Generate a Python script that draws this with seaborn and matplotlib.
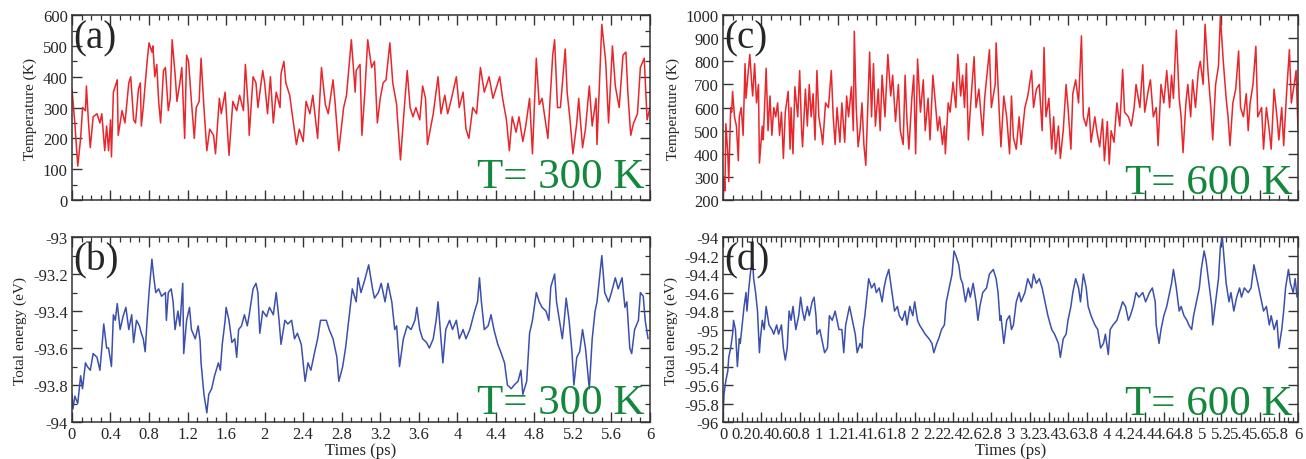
import matplotlib
matplotlib.use("Agg")
import matplotlib.pyplot as plt
from matplotlib.ticker import MultipleLocator, FuncFormatter
import seaborn as sns
import pandas as pd

# ---------------- data ----------------
# (a) Temperature at T = 300 K
time_a = [0.00, 0.03, 0.06, 0.09, 0.11, 0.14, 0.15, 0.17, 0.19, 0.22, 0.26, 0.29, 0.31, 0.34, 0.36, 0.38, 0.40, 0.41,
          0.43, 0.47, 0.48, 0.52, 0.55, 0.59, 0.61, 0.64, 0.66, 0.69, 0.71, 0.72, 0.74, 0.78, 0.80, 0.83, 0.84, 0.86,
          0.88, 0.90, 0.92, 0.95, 0.97, 1.00, 1.02, 1.04, 1.07, 1.09, 1.12, 1.14, 1.17, 1.19, 1.21, 1.24, 1.27, 1.29,
          1.32, 1.34, 1.37, 1.40, 1.43, 1.47, 1.49, 1.53, 1.55, 1.59, 1.60, 1.63, 1.67, 1.71, 1.74, 1.78, 1.80, 1.83,
          1.84, 1.88, 1.91, 1.93, 1.98, 2.00, 2.03, 2.06, 2.09, 2.12, 2.16, 2.17, 2.20, 2.22, 2.26, 2.29, 2.33, 2.36,
          2.40, 2.43, 2.47, 2.50, 2.55, 2.59,
          2.63, 2.66, 2.71, 2.73, 2.77, 2.82, 2.85, 2.90, 2.94, 2.95, 2.99, 3.01, 3.04, 3.07, 3.11, 3.14, 3.17, 3.20,
          3.23, 3.26, 3.30, 3.33, 3.37, 3.38, 3.41, 3.45, 3.48, 3.51, 3.54, 3.57, 3.61, 3.64, 3.67, 3.69, 3.75, 3.80,
          3.83, 3.87, 3.90, 3.94, 3.99, 4.02, 4.06, 4.09, 4.12, 4.16, 4.20, 4.24, 4.28, 4.33, 4.37, 4.40, 4.44, 4.47,
          4.51, 4.54, 4.57, 4.61, 4.64, 4.68, 4.71, 4.75, 4.78, 4.82, 4.85, 4.88, 4.94, 4.99, 5.01, 5.04, 5.07, 5.12,
          5.14, 5.17, 5.20, 5.24, 5.26, 5.30, 5.33, 5.37, 5.40, 5.44, 5.45, 5.50, 5.54, 5.57, 5.61, 5.64, 5.68, 5.72,
          5.75, 5.77, 5.80, 5.83, 5.87, 5.90, 5.94, 5.97, 6.00]
temp_a = [360, 250, 110, 200, 300, 290, 370, 260, 170, 270, 280, 250, 280, 160, 240, 160, 260, 140,
          350, 390, 210, 290, 250, 380, 400, 260, 250, 360, 380, 240, 300, 450, 510, 480, 500, 400,
          440, 320, 250, 420, 430, 290, 330, 520, 410, 320, 380, 430, 200, 470, 450, 320, 200, 300,
          320, 460, 300, 160, 230, 210, 150, 330, 280, 350, 300, 145, 320, 290, 340, 290, 440, 300,
          210, 400, 380, 300, 420, 380, 280, 400, 250, 350, 300, 410, 450, 380, 340, 270, 180, 230,
          190, 320, 280, 340, 200, 430,
          310, 280, 390, 320, 160, 300, 340, 520, 350, 420, 440, 210, 350, 520, 430, 450, 250, 330,
          380, 390, 510, 380, 310, 260, 130, 300, 420, 300, 270, 300, 260, 370, 330, 180, 280, 400,
          280, 340, 280, 330, 400, 300, 350, 230, 200, 300, 280, 430, 350, 400, 330, 360, 400, 330,
          260, 160, 270, 220, 270, 190, 240, 330, 150, 460, 310, 330, 200, 470, 520, 300, 300, 490,
          350, 260, 150, 250, 330, 170, 230, 370, 240, 330, 180, 570, 450, 250, 500, 370, 300, 470,
          480, 350, 210, 250, 280, 430, 460, 260, 300]

# (b) Total energy at T = 300 K
time_b = [0.00, 0.01, 0.03, 0.06, 0.09, 0.11, 0.14, 0.16, 0.19, 0.22, 0.26, 0.29, 0.31, 0.33, 0.36, 0.38, 0.41, 0.43,
          0.45, 0.47, 0.50, 0.53, 0.56, 0.59, 0.62, 0.64, 0.67, 0.70, 0.72, 0.74, 0.76, 0.78, 0.80, 0.83, 0.85, 0.87,
          0.90, 0.93, 0.97, 0.98, 1.00, 1.03, 1.05, 1.07, 1.10, 1.12, 1.15, 1.16, 1.19, 1.22, 1.24, 1.28, 1.31, 1.33,
          1.34, 1.37, 1.40, 1.42, 1.45, 1.48, 1.52, 1.54, 1.56, 1.59, 1.60, 1.63, 1.66, 1.69, 1.71, 1.73, 1.76, 1.79,
          1.82, 1.84, 1.88, 1.91, 1.93, 1.95, 1.98, 2.02, 2.05, 2.09, 2.12, 2.15, 2.17, 2.21, 2.24, 2.28, 2.31, 2.34,
          2.38, 2.40, 2.42, 2.45, 2.48, 2.52, 2.55, 2.58,
          2.61, 2.64, 2.67, 2.71, 2.75, 2.77, 2.81, 2.84, 2.88, 2.91, 2.95, 2.97, 3.00, 3.04, 3.08, 3.12, 3.14, 3.18,
          3.21, 3.25, 3.28, 3.32, 3.35, 3.37, 3.40, 3.44, 3.48, 3.52, 3.56, 3.58, 3.61, 3.64, 3.68, 3.71, 3.75, 3.78,
          3.80, 3.83, 3.85, 3.88, 3.92, 3.95, 3.99, 4.02, 4.06, 4.09, 4.13, 4.18, 4.21, 4.23, 4.25, 4.28, 4.32, 4.35,
          4.38, 4.42, 4.45, 4.49, 4.52, 4.56, 4.59, 4.63, 4.66, 4.68, 4.72, 4.75, 4.78, 4.82, 4.85, 4.88, 4.92, 4.95,
          4.97, 5.01, 5.03, 5.06, 5.09, 5.11, 5.13, 5.16, 5.19, 5.21, 5.24, 5.27, 5.30, 5.33, 5.37, 5.40, 5.43, 5.45,
          5.50, 5.53, 5.57, 5.60, 5.64, 5.67, 5.71, 5.74, 5.76, 5.79, 5.81, 5.84, 5.88, 5.90, 5.93, 5.95, 5.98]
energy_b = [-93.85, -93.93, -93.86, -93.90, -93.75, -93.82, -93.68, -93.70, -93.72, -93.63, -93.65, -93.72, -93.60,
            -93.47, -93.60, -93.60, -93.70, -93.42, -93.45, -93.36, -93.50, -93.43, -93.38, -93.50, -93.42, -93.57,
            -93.45, -93.48, -93.52, -93.55, -93.62, -93.45, -93.30, -93.12, -93.22, -93.30, -93.28, -93.32, -93.30,
            -93.45, -93.30, -93.28, -93.35, -93.50, -93.40, -93.48, -93.25, -93.63, -93.45, -93.38, -93.50, -93.55,
            -93.48, -93.56, -93.68, -93.85, -93.95, -93.85, -93.82, -93.75, -93.68, -93.72, -93.58, -93.45, -93.38,
            -93.45, -93.57, -93.55, -93.65, -93.50, -93.48, -93.42, -93.48, -93.42, -93.28, -93.25, -93.30, -93.52,
            -93.40, -93.43, -93.38, -93.42, -93.30, -93.45, -93.58, -93.45, -93.47, -93.45, -93.55, -93.52, -93.58,
            -93.68, -93.78, -93.68, -93.72, -93.62, -93.55, -93.45,
            -93.45, -93.45, -93.50, -93.55, -93.65, -93.78, -93.70, -93.60, -93.42, -93.28, -93.35, -93.22, -93.30,
            -93.23, -93.15, -93.28, -93.33, -93.30, -93.25, -93.35, -93.25, -93.35, -93.50, -93.48, -93.70, -93.55,
            -93.48, -93.50, -93.45, -93.38, -93.50, -93.55, -93.57, -93.60, -93.55, -93.45, -93.35, -93.55, -93.68,
            -93.50, -93.45, -93.50, -93.45, -93.55, -93.50, -93.55, -93.50, -93.40, -93.35, -93.22, -93.35, -93.50,
            -93.48, -93.42, -93.50, -93.58, -93.62, -93.68, -93.80, -93.82, -93.80, -93.78, -93.72, -93.85, -93.78,
            -93.52, -93.45, -93.30, -93.35, -93.38, -93.40, -93.45, -93.27, -93.20, -93.35, -93.45, -93.55, -93.45,
            -93.33, -93.45, -93.62, -93.80, -93.65, -93.62, -93.50, -93.60, -93.82, -93.55, -93.40, -93.35, -93.10,
            -93.30, -93.35, -93.30, -93.22, -93.28, -93.22, -93.38, -93.35, -93.60, -93.63, -93.50, -93.45, -93.30,
            -93.32, -93.45, -93.55]

# (c) Temperature at T = 600 K
time_c = [0.00, 0.01, 0.02, 0.03, 0.05, 0.06, 0.08, 0.09, 0.10, 0.12, 0.14, 0.16, 0.17, 0.19, 0.21, 0.23, 0.24, 0.26,
          0.28, 0.30, 0.31, 0.33, 0.35, 0.37, 0.38, 0.41, 0.42, 0.45, 0.47, 0.49, 0.51, 0.53, 0.55, 0.57, 0.59, 0.61,
          0.63, 0.65, 0.68, 0.70, 0.71, 0.73, 0.75, 0.78, 0.80, 0.82, 0.83, 0.86, 0.88, 0.90, 0.92, 0.94, 0.96, 0.98,
          1.00, 1.03, 1.04, 1.07, 1.10, 1.13, 1.15, 1.17, 1.19, 1.22, 1.24, 1.27, 1.29, 1.31, 1.34, 1.36, 1.37, 1.39,
          1.41, 1.43, 1.45, 1.47, 1.49, 1.51, 1.53, 1.55, 1.57, 1.59, 1.62, 1.64, 1.66, 1.69, 1.72, 1.75, 1.77, 1.80,
          1.83, 1.85, 1.88, 1.90, 1.92, 1.94, 1.97, 1.99, 2.01, 2.03, 2.06, 2.09, 2.11, 2.14, 2.16, 2.19, 2.22, 2.24,
          2.26, 2.29, 2.31, 2.32, 2.35, 2.37, 2.40, 2.43, 2.45, 2.48, 2.50, 2.52, 2.54, 2.56, 2.59, 2.62, 2.64, 2.67,
          2.71, 2.73, 2.78, 2.80, 2.84, 2.85, 2.88, 2.90, 2.93, 2.96, 2.99, 3.01, 3.03, 3.06, 3.09, 3.11, 3.15, 3.18,
          3.22, 3.24, 3.27, 3.30, 3.33, 3.35, 3.37, 3.40, 3.43, 3.45, 3.47, 3.50, 3.52, 3.55, 3.58, 3.60, 3.63, 3.65,
          3.68, 3.71, 3.74, 3.76, 3.79, 3.82, 3.84, 3.88, 3.90, 3.93, 3.96, 3.98, 4.01, 4.03, 4.05, 4.08, 4.11, 4.14,
          4.17, 4.19, 4.23, 4.26, 4.29, 4.31, 4.35, 4.38, 4.40, 4.44, 4.46, 4.49, 4.52, 4.54, 4.57, 4.60, 4.63, 4.66,
          4.68, 4.70, 4.73, 4.76, 4.78, 4.80, 4.83, 4.85, 4.88, 4.90, 4.93, 4.96, 4.98, 5.01, 5.03, 5.06, 5.09, 5.11,
          5.14, 5.17, 5.19, 5.22, 5.25, 5.27, 5.29, 5.32, 5.35, 5.38, 5.40, 5.43, 5.46, 5.48, 5.50, 5.53, 5.56, 5.58,
          5.62, 5.64, 5.67, 5.70, 5.72, 5.75, 5.78, 5.80, 5.83, 5.85, 5.88, 5.91, 5.93, 5.96, 5.98, 6.00]
temp_c = [200, 300, 240, 530, 400, 280, 600, 580, 670, 560, 520, 370, 560, 600, 480, 790, 640, 740,
          830, 700, 650, 790, 620, 700, 360, 520, 460, 770, 500, 650, 480, 600, 560, 620, 480, 580,
          380, 580, 670, 420, 600, 400, 690, 560, 760, 500, 430, 680, 520, 700, 560, 660, 460, 760,
          560, 480, 440, 620, 600, 760, 560, 440, 600, 450, 620, 450, 650, 560, 690, 500, 930, 600,
          430, 500, 620, 440, 350, 600, 840, 560, 790, 520, 680, 500, 740, 560, 830, 650, 740, 540,
          700, 500, 440, 740, 540, 420, 640, 740, 400, 810, 580, 720, 500, 640, 460, 740, 600, 500,
          560, 440, 520, 400, 620, 580, 710, 600, 830, 650, 740, 600, 790, 460, 650, 820, 600, 680,
          480, 640, 850, 600, 700, 880, 600, 430, 650, 560, 400, 650, 470, 420, 560, 440, 600, 650,
          760, 600, 680, 700, 500, 860, 560, 640, 420, 560, 400, 520, 380, 500, 700, 600, 420, 660,
          720, 620, 910, 560, 520, 600, 450, 560, 500, 430, 550, 370, 540, 355, 500, 450, 620, 520,
          765, 580, 560, 520, 600, 700, 600, 785, 580, 680, 720, 560, 600, 435, 700, 620, 760, 600,
          740, 640, 935, 640, 560, 405, 620, 700, 560, 720, 600, 760, 800, 700, 960, 760, 600, 460,
          700, 780, 995, 800, 640, 560, 435, 620, 680, 845, 600, 560, 660, 500, 620, 700, 865, 560,
          600, 420, 600, 500, 420, 680, 560, 460, 600, 435, 660, 850, 620, 700, 760, 500]

# (d) Total energy at T = 600 K
time_d = [0.00, 0.01, 0.03, 0.05, 0.06, 0.08, 0.10, 0.11, 0.13, 0.15, 0.17, 0.18, 0.20, 0.22, 0.24, 0.25, 0.27, 0.29,
          0.31, 0.32, 0.34, 0.36, 0.38, 0.39, 0.41, 0.43, 0.45, 0.48, 0.51, 0.53, 0.56, 0.58, 0.61, 0.63, 0.65, 0.67,
          0.69, 0.71, 0.73, 0.76, 0.79, 0.81, 0.83, 0.85, 0.88, 0.90, 0.93, 0.95, 0.97, 0.98, 1.01, 1.04, 1.06, 1.09,
          1.11, 1.14, 1.17, 1.19, 1.21, 1.24, 1.26, 1.28, 1.30, 1.32, 1.35, 1.38, 1.40, 1.43, 1.45, 1.46, 1.48, 1.51,
          1.52, 1.55, 1.58, 1.60, 1.63, 1.66, 1.68, 1.70, 1.73, 1.75, 1.77, 1.79, 1.82, 1.84, 1.87, 1.90, 1.92, 1.95,
          1.98, 2.00, 2.03, 2.05, 2.08, 2.11, 2.15, 2.18, 2.20, 2.23, 2.25, 2.28, 2.31, 2.33, 2.36, 2.39, 2.41, 2.43,
          2.46, 2.48, 2.50, 2.53, 2.56, 2.58, 2.61, 2.64, 2.66,
          2.68, 2.71, 2.75, 2.78, 2.82, 2.85, 2.87, 2.89, 2.90, 2.93, 2.96, 2.99, 3.01, 3.03, 3.06, 3.09, 3.11, 3.15,
          3.18, 3.22, 3.24, 3.27, 3.30, 3.33, 3.36, 3.39, 3.43, 3.46, 3.50, 3.52, 3.55, 3.58, 3.60, 3.63, 3.65, 3.68,
          3.71, 3.73, 3.76, 3.79, 3.81, 3.84, 3.88, 3.91, 3.94, 3.97, 3.99, 4.02, 4.04, 4.07, 4.11, 4.14, 4.17, 4.20,
          4.23, 4.25, 4.28, 4.31, 4.34, 4.38, 4.41, 4.45, 4.48, 4.51, 4.52, 4.55, 4.57, 4.60, 4.63, 4.66, 4.68, 4.70,
          4.73, 4.76, 4.78, 4.81, 4.84, 4.86, 4.89, 4.91, 4.94, 4.97, 4.99, 5.02, 5.04, 5.07, 5.10, 5.11, 5.14, 5.17,
          5.19, 5.21, 5.23, 5.25, 5.28, 5.30, 5.33, 5.36, 5.39, 5.41, 5.44, 5.48, 5.51, 5.54, 5.57, 5.59, 5.62, 5.64,
          5.67, 5.70, 5.72, 5.75, 5.78, 5.80, 5.83, 5.85, 5.87, 5.90, 5.92, 5.95, 5.97, 5.99]
energy_d = [-96.00, -95.70, -95.55, -95.45, -95.30, -95.20, -95.05, -94.90, -95.00, -95.40, -95.10, -95.15, -94.95,
            -94.75, -94.60, -94.80, -94.55, -94.35, -94.28, -94.45, -94.60, -94.80, -95.25, -95.10, -94.90, -95.00,
            -94.75, -94.95, -95.00, -95.05, -94.95, -95.05, -94.95, -95.20, -95.33, -95.20, -94.80, -94.90, -94.75,
            -95.00, -94.85, -94.65, -94.80, -94.90, -94.75, -94.85, -94.70, -94.65, -94.85, -95.05, -95.00, -95.15,
            -95.25, -95.20, -94.85, -94.90, -94.80, -94.90, -95.00, -95.00, -95.25, -94.95, -94.85, -94.75, -94.90,
            -95.05, -95.25, -95.15, -95.20, -95.00, -94.85, -94.55, -94.45, -94.55, -94.50, -94.60, -94.55, -94.70,
            -94.55, -94.45, -94.35, -94.50, -94.65, -94.80, -94.75, -94.85, -94.90, -94.80, -94.95, -94.75, -94.85,
            -94.70, -94.90, -94.95, -95.00, -95.05, -95.10, -95.15, -95.25, -95.15, -95.10, -95.00, -94.95, -94.70,
            -94.55, -94.40, -94.15, -94.20, -94.30, -94.45, -94.50, -94.70, -94.55, -94.65, -94.50, -94.70, -94.90,
            -94.75, -94.60, -94.55, -94.40, -94.35, -94.45, -94.60, -94.90, -94.85, -95.15, -94.90, -94.85, -95.00,
            -94.95, -94.70, -94.60, -94.70, -94.60, -94.45, -94.55, -94.40, -94.50, -94.45, -94.55, -94.70, -94.85,
            -95.00, -95.05, -95.15, -95.30, -95.10, -95.05, -94.90, -94.75, -94.60, -94.45, -94.55, -94.70, -94.40,
            -94.55, -94.75, -94.85, -94.95, -95.00, -95.20, -95.15, -95.05, -95.27, -95.00, -94.95, -94.90, -94.80,
            -94.70, -94.75, -94.90, -94.85, -94.75, -94.60, -94.65, -94.60, -94.70, -94.60, -94.55, -94.70, -94.95,
            -95.15, -95.00, -94.85, -94.75, -94.60, -94.50, -94.35, -94.55, -94.80, -94.75, -94.85, -94.90, -94.95,
            -95.00, -94.85, -94.70, -94.55, -94.35, -94.15, -94.25, -94.50, -94.75, -94.95, -94.70, -94.45, -94.10,
            -94.00, -94.25, -94.50, -94.70, -94.60, -94.80, -94.65, -94.55, -94.65, -94.55, -94.60, -94.55, -94.30,
            -94.45, -94.55, -94.70, -94.80, -94.75, -94.95, -94.85, -95.00, -94.90, -95.20, -95.00, -94.80, -94.55,
            -94.35, -94.50, -94.60, -94.45, -94.65]

panel_labels = ["(a)", "(b)", "(c)", "(d)"]
temp_labels = ["T= 300 K", "T= 300 K", "T= 600 K", "T= 600 K"]
ylabels = ["Temperature (K)", "Total energy (eV)", "Temperature (K)", "Total energy (eV)"]
xlabel = "Times (ps)"

# ---------------- style ----------------
sns.set_theme(style="ticks")
plt.rcParams["font.family"] = ["Liberation Serif", "DejaVu Serif"]
plt.rcParams["axes.unicode_minus"] = False

RED = "#e8262b"
BLUE = "#3b50ad"
GREEN = "#13873b"

fig = plt.figure(figsize=(13.06, 4.6), dpi=100)
ax_a = fig.add_axes([0.0551, 0.563, 0.4426, 0.402])
ax_b = fig.add_axes([0.0551, 0.0804, 0.4426, 0.402])
ax_c = fig.add_axes([0.5536, 0.563, 0.4403, 0.402])
ax_d = fig.add_axes([0.5536, 0.0804, 0.4403, 0.402])

fmt = FuncFormatter(lambda v, p: f"{round(v, 4):g}")

specs = [
    (ax_a, time_a, temp_a, RED, (0, 600), 100, 50, 0.4, 0.1, False, 0.07),
    (ax_b, time_b, energy_b, BLUE, (-94, -93), 0.2, 0.1, 0.4, 0.1, True, 0.05),
    (ax_c, time_c, temp_c, RED, (200, 1000), 100, None, 0.4, 0.1, False, 0.04),
    (ax_d, time_d, energy_d, BLUE, (-96, -94), 0.2, None, 0.2, 0.05, True, 0.045),
]

for i, (ax, t, y, col, ylim, ymaj, ymin, xmaj, xmin, show_x, ty) in enumerate(specs):
    df = pd.DataFrame({"t": t, "y": y})
    sns.lineplot(data=df, x="t", y="y", ax=ax, color=col, linewidth=1.1,
                 estimator=None, sort=False)
    ax.set_xlim(0, 6)
    ax.set_ylim(*ylim)
    ax.xaxis.set_major_locator(MultipleLocator(xmaj))
    ax.xaxis.set_minor_locator(MultipleLocator(xmin))
    ax.yaxis.set_major_locator(MultipleLocator(ymaj))
    if ymin:
        ax.yaxis.set_minor_locator(MultipleLocator(ymin))
    ax.xaxis.set_major_formatter(fmt)
    ax.yaxis.set_major_formatter(fmt)
    ax.tick_params(which="both", direction="in", top=True, right=True,
                   color="#333333", labelsize=12, pad=3)
    ax.tick_params(which="major", length=7, width=1.0)
    ax.tick_params(which="minor", length=3.5, width=0.9)
    for s in ax.spines.values():
        s.set_linewidth(1.1)
        s.set_color("#333333")
    ax.set_ylabel(ylabels[i], fontsize=11, labelpad=4)
    if show_x:
        ax.set_xlabel(xlabel, fontsize=12, labelpad=0)
    else:
        ax.set_xlabel("")
        ax.tick_params(labelbottom=False)
    ax.text(0.002, 0.975, panel_labels[i], transform=ax.transAxes, fontsize=28,
            ha="left", va="top")
    ax.text(0.99, ty, temp_labels[i], transform=ax.transAxes, fontsize=31,
            color=GREEN, ha="right", va="baseline")

fig.savefig("out.png", dpi=100)
